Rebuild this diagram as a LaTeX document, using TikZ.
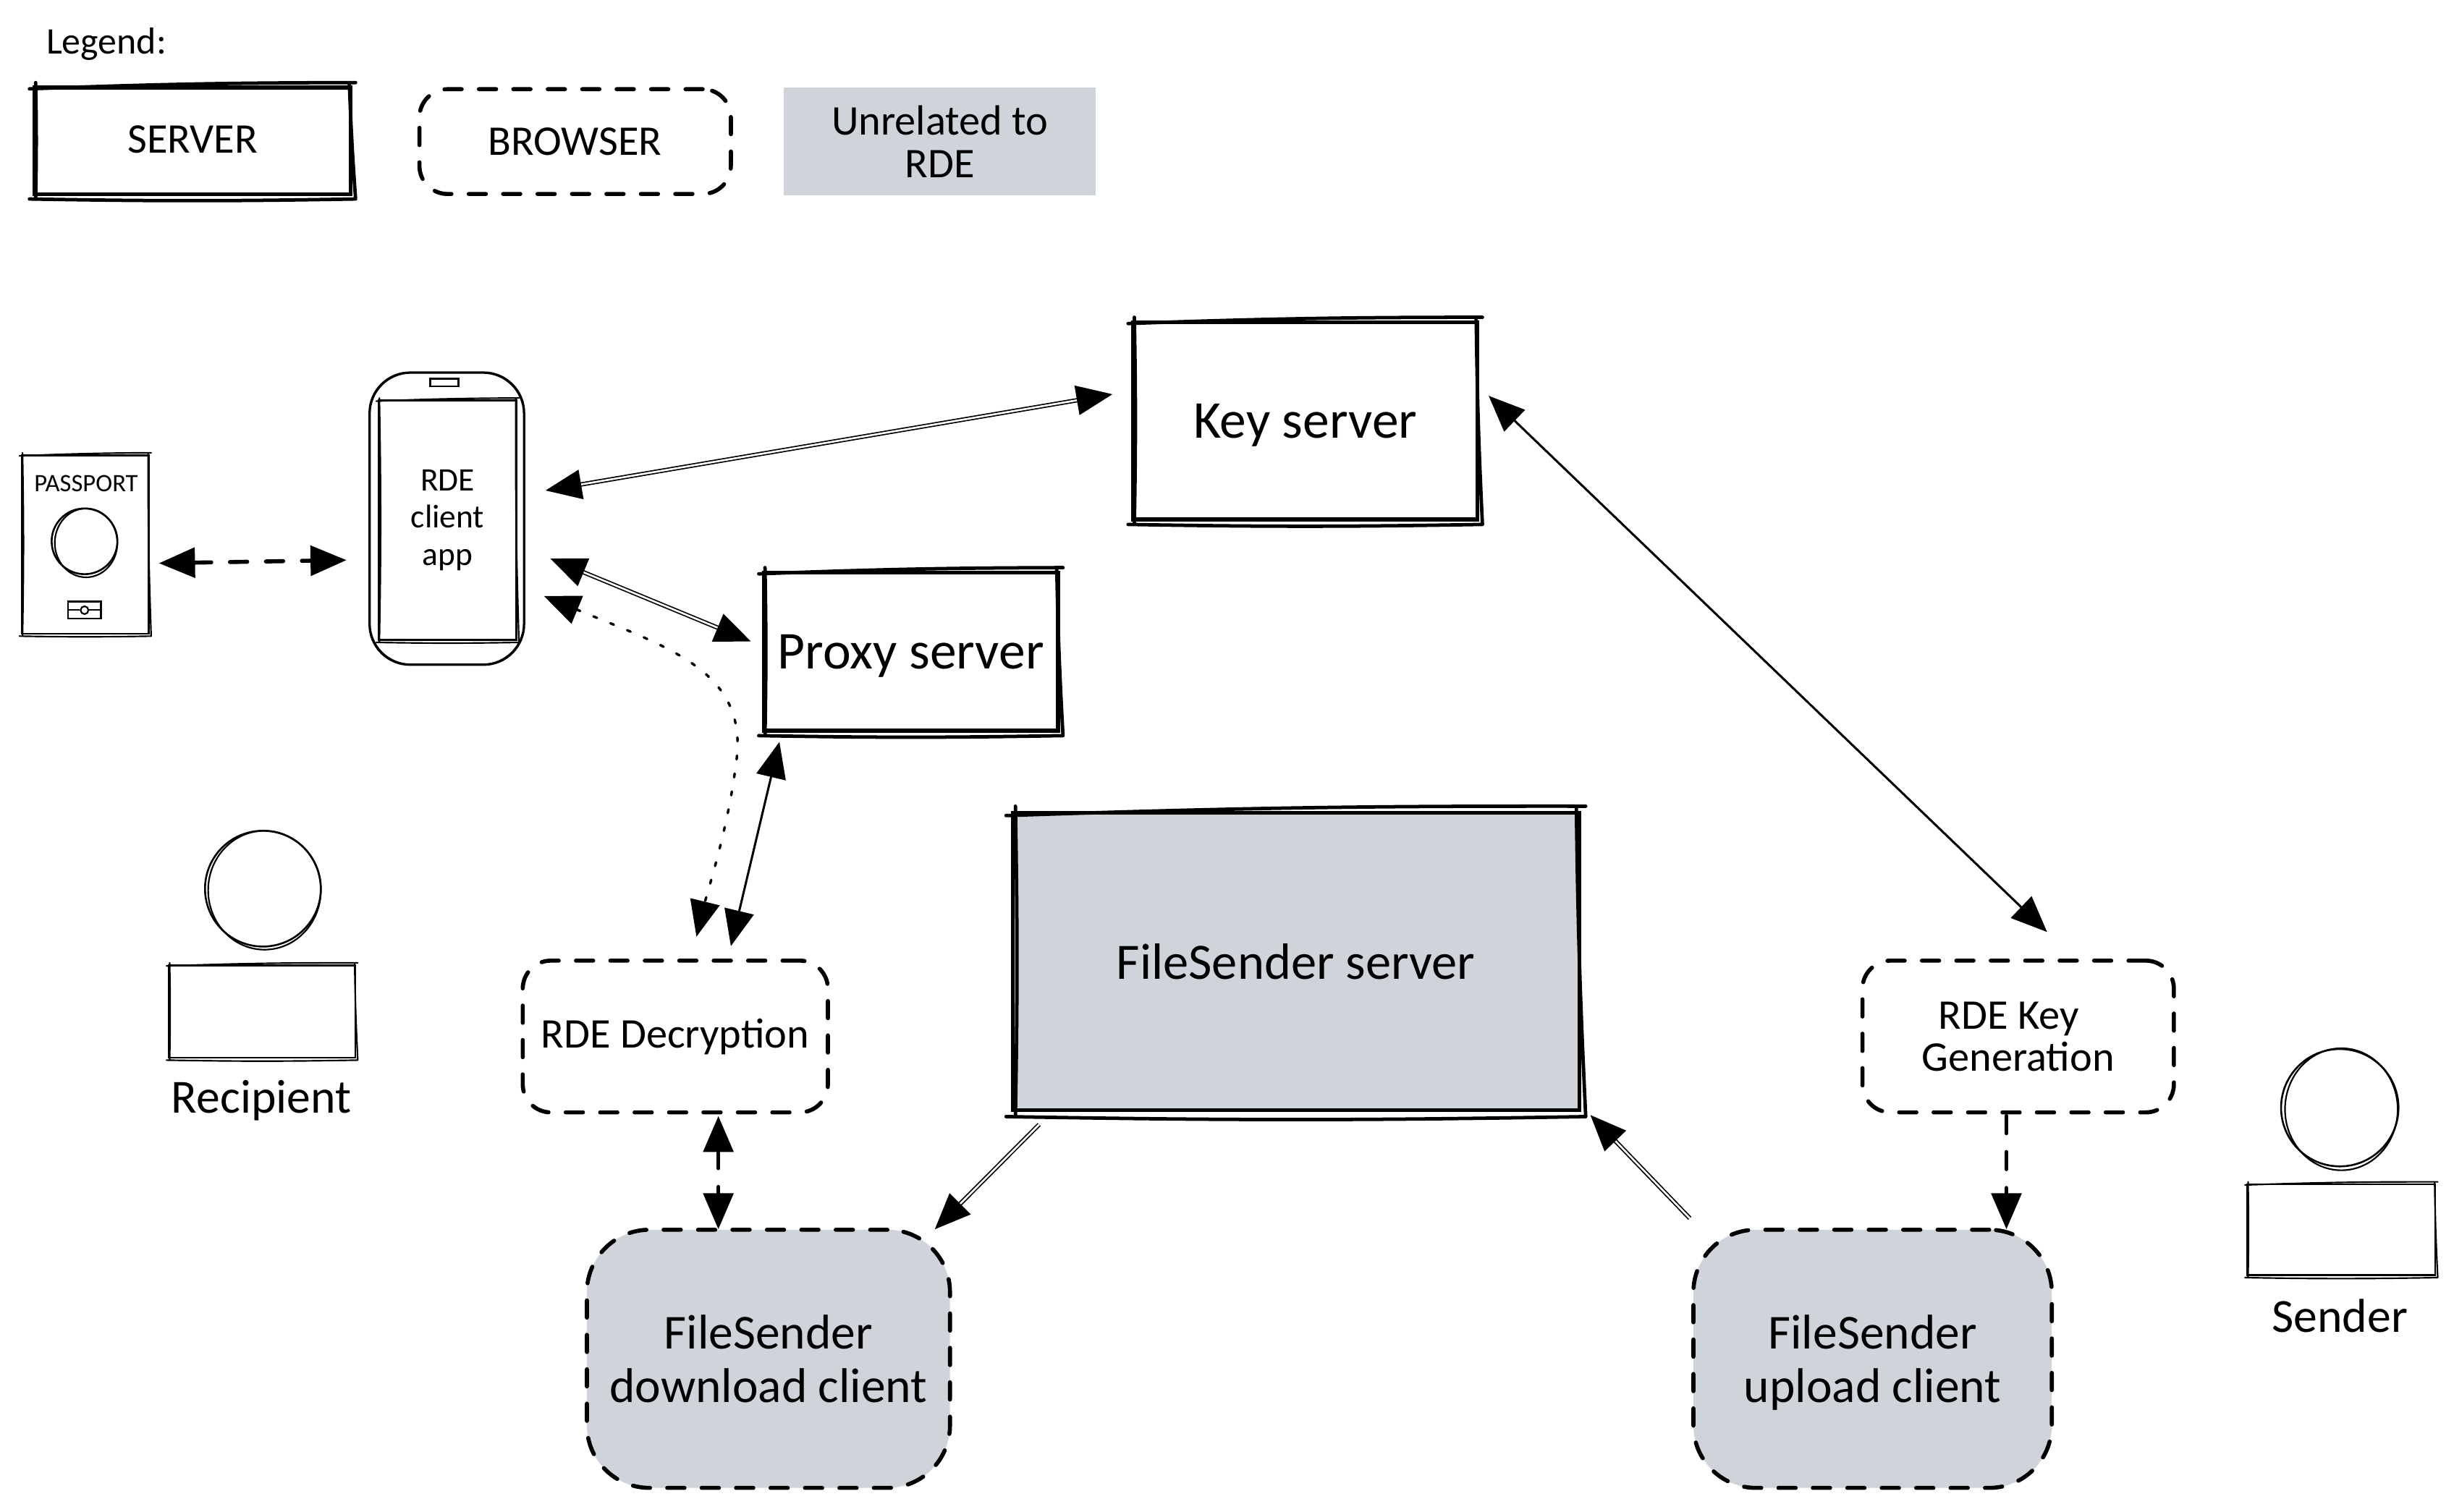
\documentclass[tikz,border=0pt]{standalone}
\usepackage{fontspec}
\setmainfont{Carlito}
\usetikzlibrary{arrows.meta}
\definecolor{unrelated}{RGB}{206,212,218}
\newcommand{\fsize}[2]{\fontsize{#1}{#2}\selectfont}
% second hand-drawn stroke round a box
\newcommand{\roughbox}[3][1.1pt]{
\draw [line width=#1, line cap=round]
  ([shift={(-#3,#3)}]#2.north west) to[bend left=1] ([shift={(#3,-#3)}]#2.north east)
  ([shift={(-#3,-#3)}]#2.north east) to[bend right=1] ([shift={(#3,#3)}]#2.south east)
  ([shift={(#3,#3)}]#2.south east) to[bend left=1] ([shift={(-#3,#3)}]#2.south west)
  ([shift={(#3,#3)}]#2.south west) to[bend right=1] ([shift={(#3,-#3)}]#2.north west);
}
% second stroke round a head
\newcommand{\roughhead}[3]{
\draw [line width=.5pt] ([shift={(1,1)}]#1.center) ellipse [x radius=#2, y radius=#3];
}
\tikzset{
  boxline/.style={draw, inner sep=0pt, align=center, line cap=round},
  serverbox/.style={boxline, line width=1.2pt},
  browserbox/.style={boxline, line width=1.3pt, rounded corners=9pt, dash pattern=on 5.5pt off 5.5pt},
  clientbox/.style={browserbox, rounded corners=20pt, fill=unrelated},
  thinbox/.style={boxline, line width=.6pt},
  bothways/.style={{Triangle[length=11.5pt, width=9.5pt]}-{Triangle[length=11.5pt, width=9.5pt]}},
  oneway/.style={-{Triangle[length=11.5pt, width=9.5pt]}},
  dbllink/.style={line width=.4pt, double=white, double distance=.6pt},
  solidlink/.style={line width=.7pt},
  dashlink/.style={line width=1.3pt, line cap=round, dash pattern=on 5.5pt off 6pt},
  dotlink/.style={line width=.8pt, line cap=round, dash pattern=on 1.2pt off 4.6pt},
  bigtext/.style={font=\fsize{17}{20}, text depth=0pt},
  boxtext/.style={font=\fsize{13.5}{13.5}},
  clienttext/.style={font=\fsize{15.6}{17}, text depth=0pt},
  persontext/.style={font=\fsize{15.2}{17}, text depth=0pt},
}
\begin{document}
\begin{tikzpicture}[x=0.5pt, y=-0.5pt]
\useasboundingbox (0,0) rectangle (1568,966.4); % page size

% legend
\node (legendtitle) [font=\fsize{12}{14}] at (68,28) {Legend:};
\node (legserver) [serverbox, boxtext, minimum width=101pt, minimum height=34pt] at (123,90) {\raisebox{1pt}{SERVER}};
\node (legbrowser) [browserbox, boxtext, minimum width=99.5pt, minimum height=33.5pt] at (367.5,90.5) {BROWSER};
\node (legunrelated) [fill=unrelated, inner sep=0pt, align=center, boxtext, minimum width=99.5pt, minimum height=34.5pt] at (600.5,90.5) {Unrelated to\\RDE};
\roughbox{legserver}{2}

% servers
\node (keysrv) [serverbox, bigtext, minimum width=110pt, minimum height=63pt] at (834,269) {Key server};
\node (proxy) [serverbox, bigtext, minimum width=94pt, minimum height=50.5pt] at (582,416.5) {Proxy server};
\node (fsserver) [serverbox, fill=unrelated, font=\fsize{16.3}{20}, minimum width=181pt, minimum height=95pt] at (828,614.5) {FileSender server};
\roughbox{keysrv}{2}
\roughbox{proxy}{2}
\roughbox{fsserver}{3}

% phone
\node (phone) [thinbox, rounded corners=13pt, minimum width=49.5pt, minimum height=93.5pt] at (285.5,331.5) {};
\node (screen) [thinbox, font=\fsize{10.5}{11.8}, minimum width=44pt, minimum height=76.5pt] at (286,332.5) {RDE\\client\\app};
\node (speaker) [thinbox, minimum width=9pt, minimum height=2.5pt] at (284,244.5) {};
\draw [line width=.5pt, rounded corners=13pt] ([shift={(1,1)}]phone.north west) rectangle ([shift={(-1,-1)}]phone.south east);
\roughbox[.5pt]{screen}{1}

% passport
\node (passport) [thinbox, minimum width=40.5pt, minimum height=57pt] at (54.5,348) {};
\node (passlabel) [font=\fsize{8}{9}] at (55,309) {PASSPORT};
\node (passphoto) [thinbox, circle, minimum size=21pt] at (54,346) {};
\node (chip) [boxline, line width=.5pt, minimum width=10.5pt, minimum height=5.5pt] at (54,390) {};
\node (chipdot) [boxline, line width=.5pt, circle, minimum size=2.5pt] at (54,390) {};
\draw [line width=.5pt] (chip.west) -- (chipdot.west);
\draw [line width=.5pt] (chipdot.east) -- (chip.east);
\roughbox[.5pt]{passport}{1}
\roughhead{passphoto}{20}{22}

% browser parts
\node (decrypt) [browserbox, boxtext, minimum width=97.5pt, minimum height=48.5pt] at (431.5,662.5) {RDE Decryption};
\node (keygen) [browserbox, boxtext, minimum width=99.5pt, minimum height=48.5pt] at (1289.5,662.5) {RDE Key\hspace*{6pt}\\Generation};
\node (dlclient) [clientbox, clienttext, minimum width=116pt, minimum height=82.5pt] at (491,868.5) {FileSender\\download client};
\node (ulclient) [clientbox, clienttext, minimum width=114.5pt, minimum height=82.5pt] at (1196.5,868.5) {FileSender\\upload client};

% people
\node (rcphead) [thinbox, circle, minimum size=37pt] at (168,568) {};
\node (rcpbody) [thinbox, minimum width=59.5pt, minimum height=29.5pt] at (167.5,646.5) {};
\node (rcplabel) [persontext] at (167,701) {Recipient};
\node (sndhead) [thinbox, circle, minimum size=37.5pt] at (1495,708) {};
\node (sndbody) [thinbox, minimum width=60pt, minimum height=29pt] at (1496,786) {};
\node (sndlabel) [persontext] at (1495,841) {Sender};
\roughbox[.5pt]{rcpbody}{1}
\roughbox[.5pt]{sndbody}{1}
\roughhead{rcphead}{36}{38}
\roughhead{sndhead}{36}{39}

% links
\draw [bothways, dashlink] ([shift={(6,12)}]passport.east) -- ([shift={(-14,26.5)}]phone.west);
\draw [bothways, dbllink] ([shift={(13,-18)}]phone.east) -- ([shift={(-12,-17)}]keysrv.west);
\draw [bothways, dbllink] ([shift={(16,25.5)}]phone.east) -- ([shift={(-7,-6.5)}]proxy.west);
\draw [bothways, dotlink] ([shift={(12,49.5)}]phone.east)
  .. controls (430,415) and (480,430) .. (470,490)
  .. controls (465,530) and (452,570) .. ([shift={(13.5,-14)}]decrypt.north);
\draw [bothways, solidlink] ([shift={(-84,6)}]proxy.south) -- ([shift={(35.5,-8)}]decrypt.north);
\draw [bothways, dashlink] ([shift={(27.5,1)}]decrypt.south) -- ([shift={(-32,1)}]dlclient.north);
\draw [oneway, dbllink] ([shift={(-164,8)}]fsserver.south) -- ([shift={(-11,1)}]dlclient.north east);
\draw [oneway, dbllink] ([shift={(-1,-6)}]ulclient.north west) -- ([shift={(6,2)}]fsserver.south east);
\draw [bothways, solidlink] ([shift={(6,-16)}]keysrv.east) -- ([shift={(18.5,-17)}]keygen.north);
\draw [oneway, dashlink] ([shift={(-7.5,1)}]keygen.south) -- ([shift={(85.5,1)}]ulclient.north);
\end{tikzpicture}
\end{document}
